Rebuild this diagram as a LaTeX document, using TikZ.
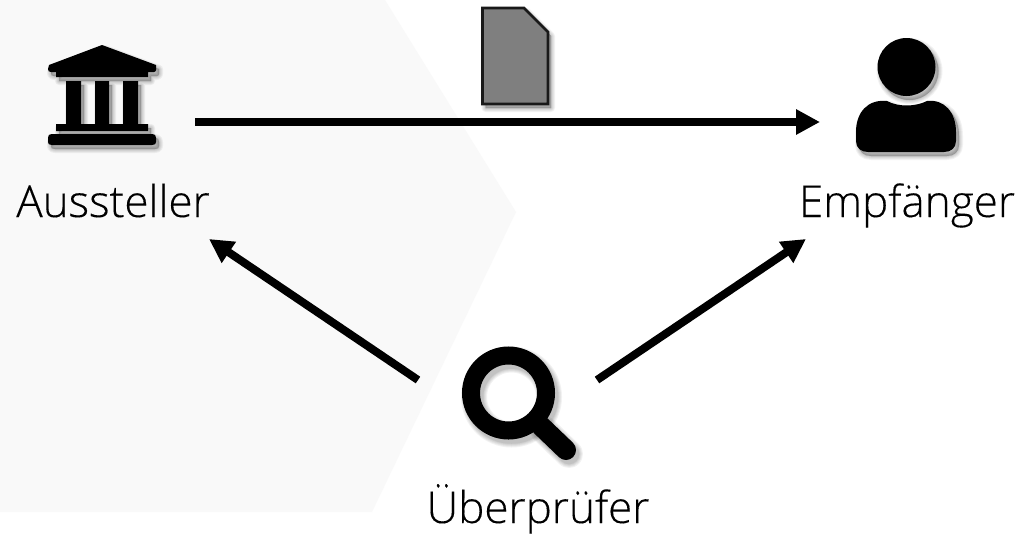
\documentclass[tikz,border=0pt]{standalone}
\usepackage{fontspec}
\setmainfont[FakeBold=0.2]{Open Sans Light}
\usetikzlibrary{arrows.meta}
\definecolor{panel}{HTML}{F9F9F9}
\definecolor{docgray}{HTML}{7F7F7F}
\tikzset{
  every picture/.style={x=1pt,y=-1pt},
  flow/.style={line width=8pt,-{Triangle[length=24pt,width=24pt]}},
  label/.style={font=\fontsize{44}{50}\selectfont,text=black,inner sep=0pt,anchor=base},
  icon/.style={fill=black,draw=none},
  anchorbox/.style={inner sep=0pt,minimum size=1pt},
}
% soft shadow: blurred look from stacked translucent copies
\newcommand{\softshadow}[1]{%
  \foreach \w in {8,6,4,2,0.5}{%
    \fill[black,fill opacity=.05,draw=black,draw opacity=.05,line width=\w pt,line join=round,shift={(3,4)}] #1;}%
}
\newcommand{\softstroke}[2]{%
  \foreach \w in {8,6,4,2,0.5}{%
    \draw[black,draw opacity=.05,line width=#1pt+\w pt,line cap=round,shift={(3,4)}] #2;}%
}
\begin{document}
\begin{tikzpicture}
\useasboundingbox (0,0) rectangle (1023,536);
\fill[white] (0,0) rectangle (1023,536);
\fill[panel] (0,0) -- (385,0) -- (516,212) -- (372,512) -- (0,512) -- cycle;

% labels
\node[label] (ausst) at (113,217) {Aussteller};
\node[label] (empf) at (907,217) {Empfänger};
\node[label] (ueber) at (538,523) {Überprüfer};

% bank
\def\bankpath{(49,65) -- (102,45) -- (156,65) -- (156,70) .. controls (156,71) and (155,72) .. (154,72) -- (148,72) -- (148,77) -- (56,77) -- (56,72) -- (51,72) .. controls (49,72) and (48,71) .. (48,69) -- cycle
 (66,81) rectangle (81,124) (95,81) rectangle (109,124) (123,81) rectangle (138,124)
 (56,124) rectangle (148,131)
 (52,134) -- (152,134) .. controls (155,134) and (156,135) .. (156,138) -- (156,142) .. controls (156,144) and (155,145) .. (152,145) -- (52,145) .. controls (49,145) and (48,144) .. (48,142) -- (48,138) .. controls (48,135) and (49,134) .. (52,134) -- cycle}
\softshadow{\bankpath}
\fill[icon] \bankpath;
\node[anchorbox] (bank) at (102,95) {};

% person
\def\personpath{(906.5,67) circle (29)
 (856,132) .. controls (856,112) and (868,99) .. (887,101) .. controls (898,107) and (915,107) .. (927,101) .. controls (944,99) and (956,112) .. (956,132) -- (956,141) .. controls (956,148) and (951,152) .. (944,152) -- (868,152) .. controls (861,152) and (856,148) .. (856,141) -- cycle}
\softshadow{\personpath}
\fill[icon] \personpath;
\node[anchorbox] (person) at (906,95) {};

% magnifier
\softstroke{18}{(508.5,393) circle (37.5)}
\softstroke{20}{(541,426) -- (566,450)}
\draw[black,line width=18pt] (508.5,393) circle (37.5);
\draw[black,line width=20pt,line cap=round] (541,426) -- (566,450);
\node[anchorbox] (lens) at (508,393) {};

% document
\def\docpath{(482.5,8) -- (524,8) -- (548,32) -- (548,104) -- (482.5,104) -- cycle}
\softshadow{\docpath}
\fill[docgray,draw=black!90,line width=2.7pt,line join=miter] \docpath;
\node[anchorbox] (doc) at (516,55) {};

% connectors
\coordinate (a1) at (195,122);
\coordinate (a2) at (820,122);
\coordinate (b1) at (418,380);
\coordinate (b2) at (209,239);
\coordinate (c1) at (597,380);
\coordinate (c2) at (806,239);
\draw[flow] (a1) -- (a2);
\draw[flow] (b1) -- (b2);
\draw[flow] (c1) -- (c2);
\end{tikzpicture}
\end{document}
